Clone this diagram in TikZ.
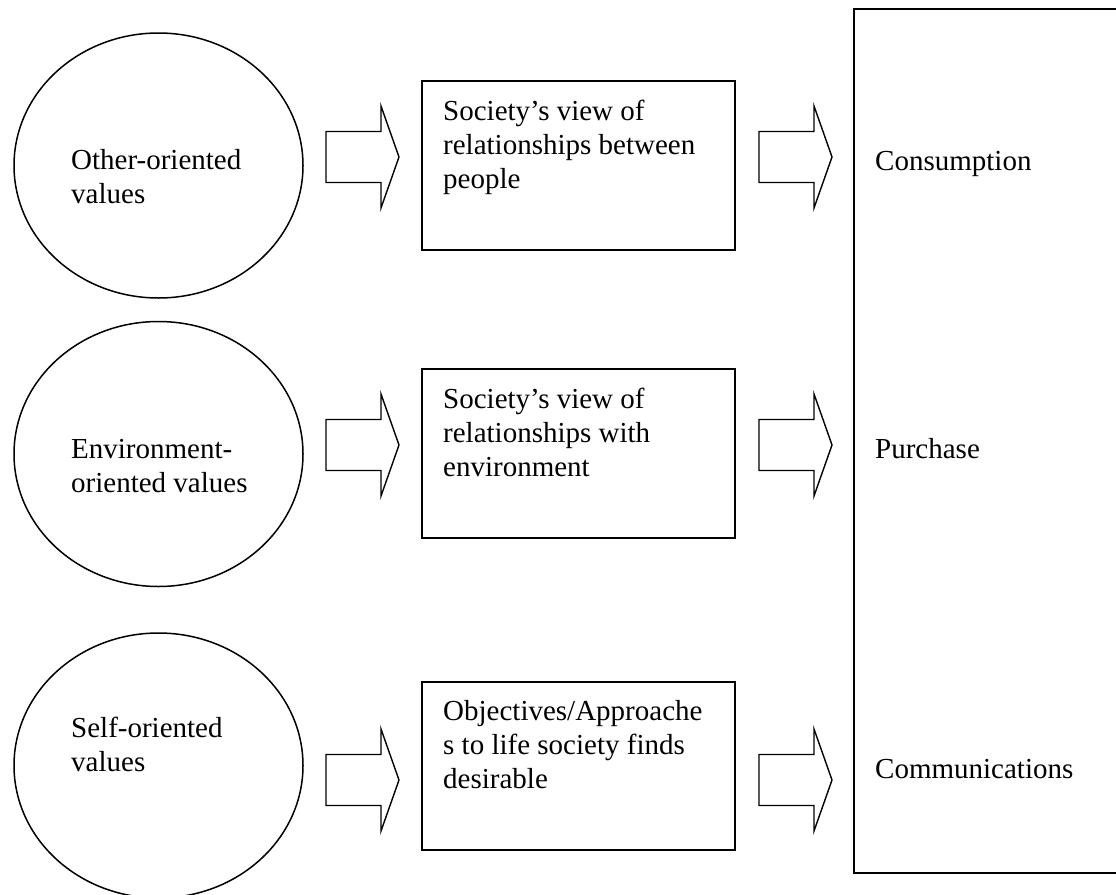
\documentclass[tikz,border=0pt]{standalone}
\usepackage{fontspec}
\setmainfont{Liberation Serif}
\usetikzlibrary{shapes.geometric}

\tikzset{
  oval/.style={ellipse, draw, line width=1.5pt, minimum width=289pt,
               minimum height=265pt, inner sep=0pt},
  panel/.style={rectangle, draw, line width=1.9pt, inner sep=0pt},
  % multi-line labels are placed by the baseline of their last line
  label/.style={align=left, inner sep=0pt, anchor=base west,
                font=\fontsize{29}{34}\selectfont},
  blockarrow/.pic={
    \draw[line width=1.4pt, line join=miter]
      (0,-25.5) -- (55,-25.5) -- (55,-51) -- (73,0) -- (55,51)
      -- (55,25.5) -- (0,25.5) -- cycle;
  }
}

\begin{document}
\begin{tikzpicture}[x=1pt, y=-1pt]
  \useasboundingbox (0,0) rectangle (1116,894);
  \clip (0,0) rectangle (1116,894);

  % value ovals
  \node[oval] (other) at (158.5,165.5) {};
  \node[oval] (env)   at (158.5,454)   {};
  \node[oval] (self)  at (158.5,765.5) {};

  \node[label] (otherT) at (71,203) {Other-oriented\\values};
  \node[label] (envT)   at (71,492) {Environment-\\oriented values};
  \node[label] (selfT)  at (71,771) {Self-oriented\\values};

  % society's view boxes
  \node[panel, minimum width=313pt, minimum height=169pt] (rel)  at (578.5,165.5) {};
  \node[panel, minimum width=313pt, minimum height=169pt] (envb) at (578.5,453.5) {};
  \node[panel, minimum width=313pt, minimum height=168pt] (obj)  at (578.5,766)   {};

  \node[label] (relT)  at (443,188) {Society’s view of\\relationships between\\people};
  \node[label] (envbT) at (443,476) {Society’s view of\\relationships with\\environment};
  \node[label] (objT)  at (443,788) {Objectives/Approache\\s to life society finds\\desirable};

  % outcome panel
  \node[panel, minimum width=276pt, minimum height=864pt] (out) at (992,441) {};
  \node[label] (cons) at (875,170) {Consumption};
  \node[label] (purc) at (875,458) {Purchase};
  \node[label] (comm) at (875,778) {Communications};

  % block arrows
  \pic at (326,157) {blockarrow};
  \pic at (759,157) {blockarrow};
  \pic at (326,445) {blockarrow};
  \pic at (759,445) {blockarrow};
  \pic at (326,780) {blockarrow};
  \pic at (759,780) {blockarrow};
\end{tikzpicture}
\end{document}
